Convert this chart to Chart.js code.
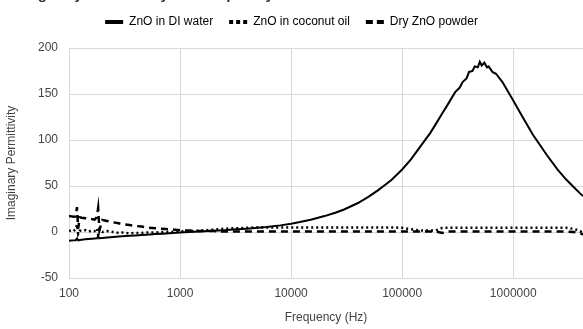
<!DOCTYPE html>
<html>
<head>
<meta charset="utf-8">
<script src="https://cdn.jsdelivr.net/npm/chart.js@4"></script>
<style>
  body { margin: 0; background: #fff; }
  #wrap { width: 583px; height: 329px; }
</style>
</head>
<body>
<div id="wrap"><canvas id="myChart" width="583" height="329"></canvas></div>
<script>
// Frecuencias (Hz) compartidas por las tres series
const frecuencias = [100, 105, 110, 115, 118, 121, 125, 130, 140, 150, 160, 170, 178, 183, 188, 200, 220, 250, 280, 300,
    350, 400, 450, 500, 600, 700, 800, 1000, 1200, 1500, 2000, 2500, 3000, 4000, 5000, 6000, 8000, 10000, 12000, 15000,
    20000, 25000, 30000, 40000, 50000, 60000, 70000, 80000, 100000, 120000, 150000, 180000, 200000, 230000, 250000, 300000,
    330000, 350000, 380000, 400000, 430000, 450000, 480000, 500000, 520000, 550000, 580000, 600000, 650000, 700000, 800000,
    1000000, 1200000, 1500000, 2000000, 2500000, 3000000, 3500000, 4000000, 4250000];

// ZnO in DI water
const aguaDI = [-9.5, -9.3, -9.1, -8.9, -7, -9, -8.6, -8.4, -8, -7.7, -7.4, -7.1, -6.9, -5, -6.8, -6.4, -6, -5.5, -5, -4.7,
    -4.2, -3.7, -3.3, -2.9, -2.3, -1.8, -1.4, -0.6, 0, 0.6, 1.4, 2, 2.6, 3.6, 4.5, 5.4, 7.2, 9, 10.8, 13.3,
    17.3, 21, 24.5, 31.5, 38.5, 45, 51, 56.5, 68, 79, 95, 108, 117, 129, 136, 152,
    157, 163, 167, 174, 175, 180, 179, 185, 181, 184, 179, 180, 174, 172, 163,
    143, 126, 106, 84, 68, 57, 49, 42, 39];

// ZnO in coconut oil
const aceiteCoco = [1, 2, 1, 3, 8, -2, 1.5, 1, 2, 0.5, 1.5, 1, 4, -3, 3, 0, 1, 0, -1, -0.5,
    -1.5, -1, -1, -0.5, -0.5, 0, 0, 0.5, 1, 1.5, 2.5, 3.5, 4, 4.5, 5, 5, 5, 5, 5, 5,
    5, 5, 5, 5, 5, 5, 5, 5, 4.5, 3, 1.5, 1.5, 1.5, 4.5, 4.5, 4.5,
    4.5, 4.5, 4.5, 4.5, 4.5, 4.5, 4.5, 4.5, 4.5, 4.5, 4.5, 4.5, 4.5, 4.5, 4.5,
    4.5, 4.5, 4.5, 4.5, 4.5, 4.5, 3.5, 1, -1];

// Dry ZnO powder
const polvoSeco = [17.5, 17, 16.5, 17, 27, 4, 16, 15.5, 15, 14.5, 14, 13.5, 16, 26, 2, 13, 12, 10.5, 9.5, 8.5,
    7.5, 6.5, 6, 5, 4, 3.5, 3, 2, 1.5, 1, 1, 0.5, 0.5, 0.5, 0.5, 0.5, 0.5, 0.5, 0.5, 0.5,
    0.5, 0.5, 0.5, 0.5, 0.5, 0.5, 0.5, 0.5, 0.5, 0.5, 0.5, 0.5, 0.5, -1, 0.5, 0.5,
    0.5, 0.5, 0.5, 0.5, 0.5, 0.5, 0.5, 0.5, 0.5, 0.5, 0.5, 0.5, 0.5, 0.5, 0.5,
    0.5, 0.5, 0.5, 0.5, 0.5, 0.5, 0, -1.5, -2.5];

const ticksX = [100, 1000, 10000, 100000, 1000000];

const puntos = (valores) => frecuencias.map((f, i) => ({ x: f, y: valores[i] }));

// Título (recortado arriba en la imagen original)
const tituloRecortado = {
    id: 'tituloRecortado',
    afterDraw(chart) {
        const c = chart.ctx;
        c.save();
        c.font = 'bold 15px "Liberation Sans", Arial, sans-serif';
        c.fillStyle = '#333';
        c.textBaseline = 'alphabetic';
        c.fillText('Imaginary Permittivity vs. Frequency of ZnO in Different Media', 12, -1);
        c.restore();
    }
};

// Espacio extra debajo de la leyenda
const margenLeyenda = {
    id: 'margenLeyenda',
    beforeInit(chart) {
        const fitOriginal = chart.legend.fit;
        chart.legend.fit = function() {
            fitOriginal.call(this);
            this.height += 10;
        };
    }
};

document.addEventListener('DOMContentLoaded', function() {
    const ctx = document.getElementById('myChart').getContext('2d');

    const myChart = new Chart(ctx, {
        type: 'line',
        data: {
            datasets: [{
                label: 'ZnO in DI water',
                data: puntos(aguaDI),
                borderColor: '#000',
                backgroundColor: '#000',
                borderWidth: 2,
                pointRadius: 0,
                tension: 0
            }, {
                label: 'ZnO in coconut oil',
                data: puntos(aceiteCoco),
                borderColor: '#000',
                backgroundColor: '#000',
                borderWidth: 2.5,
                borderDash: [2, 3],
                pointRadius: 0,
                tension: 0
            }, {
                label: 'Dry ZnO powder',
                data: puntos(polvoSeco),
                borderColor: '#000',
                backgroundColor: '#000',
                borderWidth: 2.5,
                borderDash: [7, 5],
                pointRadius: 0,
                tension: 0
            }]
        },
        options: {
            responsive: false,
            animation: false,
            layout: { padding: { top: 0, left: 0, right: 0, bottom: 0 } },
            plugins: {
                legend: {
                    position: 'top',
                    labels: {
                        usePointStyle: true,
                        pointStyle: 'line',
                        pointStyleWidth: 18,
                        boxHeight: 10,
                        padding: 16,
                        color: '#333',
                        font: { family: '"Liberation Sans", Arial, sans-serif', size: 12 },
                        generateLabels(chart) {
                            const dashes = [[], [4, 3], [7, 4]];
                            return chart.data.datasets.map((ds, i) => ({
                                text: ds.label,
                                fillStyle: '#000',
                                strokeStyle: '#000',
                                lineWidth: 4,
                                lineDash: dashes[i],
                                pointStyle: 'line',
                                datasetIndex: i
                            }));
                        }
                    }
                },
                tooltip: { enabled: false }
            },
            scales: {
                x: {
                    type: 'logarithmic',
                    min: 100,
                    max: 4250000,
                    afterBuildTicks(scale) {
                        scale.ticks = ticksX.map(v => ({ value: v }));
                    },
                    afterFit(scale) { scale.height = 51; },
                    grid: { color: '#d9d9d9', drawTicks: false },
                    border: { color: '#d9d9d9' },
                    ticks: {
                        color: '#444',
                        padding: 8,
                        maxRotation: 0,
                        font: { family: '"Liberation Sans", Arial, sans-serif', size: 12 },
                        callback: (v) => String(v)
                    },
                    title: {
                        display: true,
                        text: 'Frequency (Hz)',
                        color: '#444',
                        padding: { top: 4, bottom: 4 },
                        font: { family: '"Liberation Sans", Arial, sans-serif', size: 12 }
                    }
                },
                y: {
                    min: -50,
                    max: 200,
                    afterFit(scale) { scale.width = 69; },
                    grid: { color: '#d9d9d9', drawTicks: false },
                    border: { color: '#d9d9d9' },
                    ticks: {
                        stepSize: 50,
                        color: '#444',
                        padding: 11,
                        font: { family: '"Liberation Sans", Arial, sans-serif', size: 12 }
                    },
                    title: {
                        display: true,
                        text: 'Imaginary Permittivity',
                        color: '#444',
                        padding: { top: 4, bottom: 4 },
                        font: { family: '"Liberation Sans", Arial, sans-serif', size: 12 }
                    }
                }
            }
        },
        plugins: [tituloRecortado, margenLeyenda]
    });
});
</script>
</body>
</html>
